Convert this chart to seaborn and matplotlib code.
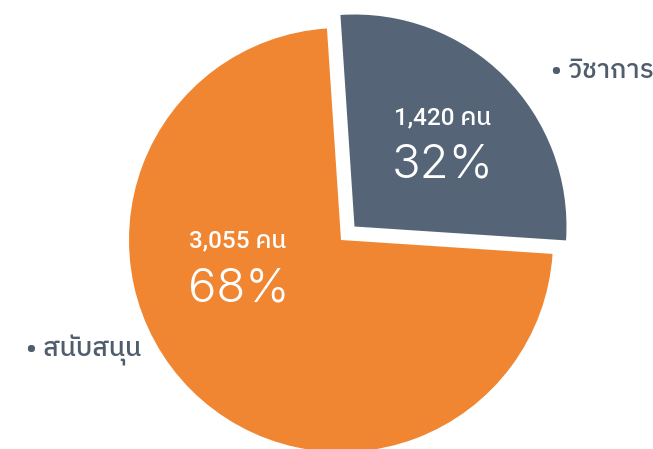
import matplotlib
matplotlib.use("Agg")
import matplotlib.pyplot as plt
import seaborn as sns
from matplotlib import font_manager
from matplotlib.ft2font import FT2Font

# ---- data ----
categories = ["วิชาการ", "สนับสนุน"]
counts = [1420, 3055]
count_labels = ["1,420 คน", "3,055 คน"]
percent_labels = ["32%", "68%"]
# angular share of each slice as drawn in the reference
slice_shares = [27.1, 72.9]
colors = ["#556577", "#F18632"]
label_color = "#4F5D6D"

sns.set_theme(style="white")


def find_thai_family():
    cands = []
    for f in font_manager.fontManager.ttflist:
        try:
            cm = FT2Font(f.fname).get_charmap()
        except Exception:
            continue
        if ord("ว") in cm and ord("น") in cm:
            cands.append(f.name)
    if not cands:
        return "DejaVu Sans"
    def score(n):
        s = 0
        if "Thai" in n:
            s -= 10
        if "Looped" in n:
            s += 5
        if "UI" in n:
            s += 1
        return s
    cands.sort(key=score)
    return cands[0]


thai = find_thai_family()
plt.rcParams["font.family"] = ["Inter", thai, "DejaVu Sans"]

pct_font = font_manager.FontProperties(family="Inter", weight=300, size=34)
cnt_font = font_manager.FontProperties(family=["Roboto", thai], weight=500, size=17.5)
cat_font = font_manager.FontProperties(family=[thai, "DejaVu Sans"], weight=500, size=19)

W, H = 653, 449
R = 212.0            # pie radius in pixels
CX, CY = 341, 240    # pie centre in pixels (from top)

fig = plt.figure(figsize=(W / 100, H / 100), dpi=100)
ax = fig.add_axes([0, 0, 1, 1])
wedges, _ = ax.pie(
    slice_shares,
    colors=colors,
    startangle=93.8,
    counterclock=False,
    explode=[0.09, 0.0],
    radius=1.0,
    wedgeprops=dict(linewidth=0),
)
ax.set_xlim(-CX / R, (W - CX) / R)
ax.set_ylim(-(H - CY) / R, CY / R)
ax.set_aspect("auto")
ax.axis("off")


def px(x, y):
    return (x - CX) / R, (CY - y) / R


# in-slice labels
count_pos = [px(443, 118), px(238, 241)]
pct_pos = [px(443, 166), px(239, 290)]
for (cx, cy), (pxx, pyy), cl, pl in zip(count_pos, pct_pos, count_labels, percent_labels):
    ax.text(cx, cy, cl, ha="center", va="center", color="white",
            fontproperties=cnt_font)
    ax.text(pxx, pyy, pl, ha="center", va="center", color="white",
            fontproperties=pct_font)

# outside category labels
cat_pos = [px(551, 71), px(26, 350)]
for (x, y), c in zip(cat_pos, categories):
    ax.text(x, y, "• " + c, ha="left", va="center", color=label_color,
            fontproperties=cat_font)

fig.savefig("out.png", dpi=100)
